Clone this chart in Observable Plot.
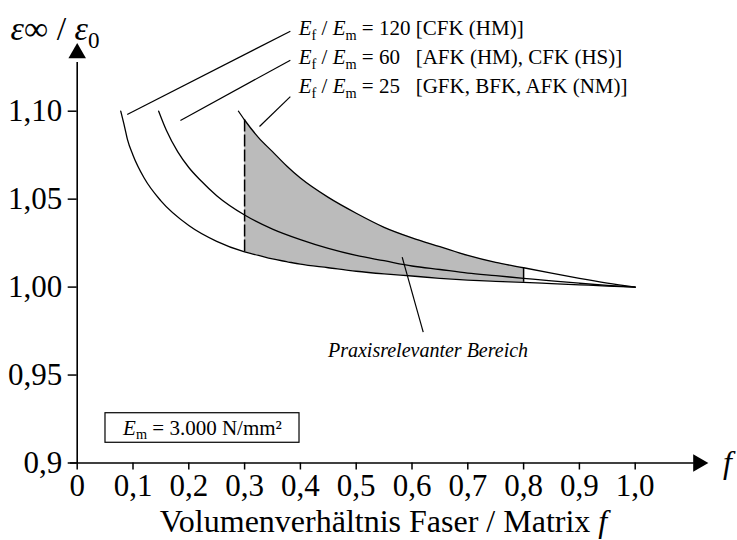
<!DOCTYPE html>
<html>
<head>
<meta charset="utf-8">
<script src="https://cdn.jsdelivr.net/npm/d3@7"></script>
<script src="https://cdn.jsdelivr.net/npm/@observablehq/plot@0.6"></script>
<style>
  body { margin: 0; background: #fff; }
  svg { display: block; }
  svg text { font-family: "Liberation Serif", serif; }
</style>
</head>
<body>
<div id="chart"></div>
<script>
// Kriechverhältnis ε∞/ε0 über dem Faservolumenanteil f für drei Steifigkeitsverhältnisse Ef/Em

// Ef/Em = 120 [CFK (HM)]
const f120 = [0.078, 0.085, 0.09, 0.10, 0.12, 0.15, 0.20, 0.25, 0.30, 0.325, 0.35, 0.375, 0.40, 0.45, 0.50, 0.55, 0.60, 0.65, 0.70, 0.75, 0.80, 0.85, 0.90, 0.95, 1.00];
const v120 = [1.100, 1.091, 1.084, 1.075, 1.062, 1.049, 1.035, 1.026, 1.020, 1.018, 1.016, 1.0145, 1.013, 1.011, 1.009, 1.0075, 1.0063, 1.005, 1.004, 1.0033, 1.0027, 1.002, 1.0013, 1.0006, 1.000];

// Ef/Em = 60 [AFK (HM), CFK (HS)]
const f60 = [0.146, 0.16, 0.18, 0.20, 0.22, 0.25, 0.30, 0.35, 0.40, 0.45, 0.50, 0.55, 0.60, 0.65, 0.70, 0.75, 0.80, 0.85, 0.90, 0.95, 1.00];
const v60 = [1.100, 1.089, 1.077, 1.068, 1.061, 1.052, 1.041, 1.033, 1.027, 1.022, 1.018, 1.015, 1.012, 1.010, 1.008, 1.0065, 1.005, 1.0035, 1.0022, 1.001, 1.000];

// Ef/Em = 25 [GFK, BFK, AFK (NM)]
const f25 = [0.289, 0.30, 0.325, 0.35, 0.375, 0.40, 0.45, 0.50, 0.55, 0.60, 0.65, 0.70, 0.75, 0.80, 0.85, 0.90, 0.95, 1.00];
const v25 = [1.100, 1.095, 1.085, 1.077, 1.069, 1.062, 1.051, 1.042, 1.034, 1.028, 1.023, 1.018, 1.014, 1.011, 1.008, 1.005, 1.0023, 1.000];

// practically relevant range of f
const bandFrom = 0.30;
const bandTo = 0.80;

// axis ticks and their labels (German decimal comma)
const xTicks = [0, 0.1, 0.2, 0.3, 0.4, 0.5, 0.6, 0.7, 0.8, 0.9, 1.0];
const xTickLabels = ["0", "0,1", "0,2", "0,3", "0,4", "0,5", "0,6", "0,7", "0,8", "0,9", "1,0"];
const yTicks = [0.9, 0.95, 1.0, 1.05, 1.1];
const yTickLabels = ["0,9", "0,95", "1,00", "1,05", "1,10"];

// legend texts (markup: *x* italic, _x subscript)
const seriesLabels = [
  "*E*_f / *E*_m = 120 [CFK (HM)]",
  "*E*_f / *E*_m = 60   [AFK (HM), CFK (HS)]",
  "*E*_f / *E*_m = 25   [GFK, BFK, AFK (NM)]"
];
const matrixNote = "*E*_m = 3.000 N/mm²";
const rangeNote = "Praxisrelevanter Bereich";
const xTitle = "Volumenverhältnis Faser / Matrix *f*";
const yTitle = "*ε*∞ / *ε*_0";

// ---- tables built from the arrays above ----
const toRows = (fs, vs) => fs.map((f, i) => ({f, v: vs[i]}));
const c120 = toRows(f120, v120);
const c60 = toRows(f60, v60);
const c25 = toRows(f25, v25);

const key = (f) => f.toFixed(3);
const lookup120 = new Map(c120.map(d => [key(d.f), d.v]));
const band = c25
  .filter(d => d.f >= bandFrom - 1e-9 && d.f <= bandTo + 1e-9)
  .map(d => ({f: d.f, lo: lookup120.get(key(d.f)), hi: d.v}));
const edges = [band[0], band[band.length - 1]];

// annotation anchors (leader lines from curve starts to legend rows)
const legendRows = [
  {x: 0.397, y: 1.1470, text: seriesLabels[0]},
  {x: 0.397, y: 1.1305, text: seriesLabels[1]},
  {x: 0.397, y: 1.1140, text: seriesLabels[2]}
];
const leaders = [
  {x1: 0.0896, y1: 1.0981, x2: 0.382, y2: 1.1455},
  {x1: 0.185, y1: 1.0947, x2: 0.382, y2: 1.1290},
  {x1: 0.3267, y1: 1.0913, x2: 0.382, y2: 1.1083},
  {x1: 0.5824, y1: 1.0170, x2: 0.6201, y2: 0.9744}
];

const serif = "Liberation Serif";

const chart = Plot.plot({
  width: 737,
  height: 540,
  marginLeft: 76.7,
  marginRight: 102.3,
  marginTop: 110.7,
  marginBottom: 77.5,
  x: {domain: [0, 1]},
  y: {domain: [0.9, 1.1]},
  style: {fontFamily: serif, color: "#000", background: "#fff"},
  marks: [
    // shaded practically relevant range between Ef/Em = 25 and Ef/Em = 120
    Plot.areaY(band, {x: "f", y1: "lo", y2: "hi", fill: "#bbbbbb", curve: "monotone-x"}),
    Plot.ruleX([edges[0]], {x: "f", y1: "lo", y2: "hi", stroke: "#000", strokeWidth: 1.5, strokeDasharray: "12,3"}),
    Plot.ruleX([edges[1]], {x: "f", y1: "lo", y2: "hi", stroke: "#000", strokeWidth: 1.5}),

    // the three curves
    Plot.line(c120, {x: "f", y: "v", stroke: "#000", strokeWidth: 1.3, curve: "monotone-x"}),
    Plot.line(c60, {x: "f", y: "v", stroke: "#000", strokeWidth: 1.3, curve: "monotone-x"}),
    Plot.line(c25, {x: "f", y: "v", stroke: "#000", strokeWidth: 1.3, curve: "monotone-x"}),

    // axes with arrowheads
    Plot.link([{x1: 0, y1: 0.9, x2: 0, y2: 1.128}], {x1: "x1", y1: "y1", x2: "x2", y2: "y2", stroke: "#000", strokeWidth: 1.6}),
    Plot.link([{x1: -0.013, y1: 0.9, x2: 1.105, y2: 0.9}], {x1: "x1", y1: "y1", x2: "x2", y2: "y2", stroke: "#000", strokeWidth: 1.6}),
    Plot.dot([{x: 0, y: 1.133}], {x: "x", y: "y", symbol: "triangle", r: 6.5, fill: "#000", stroke: null}),
    Plot.dot([{x: 1.113, y: 0.9}], {x: "x", y: "y", symbol: "triangle", r: 6.5, fill: "#000", stroke: null, rotate: 90}),

    Plot.axisX(xTicks, {
      tickSize: 7, tickPadding: 4, fontSize: 31, strokeWidth: 1.5, label: null, fontFamily: serif,
      tickFormat: d => xTickLabels[xTicks.indexOf(d)]
    }),
    Plot.axisY(yTicks, {
      tickSize: 9, tickPadding: 6, fontSize: 31, strokeWidth: 1.5, label: null, fontFamily: serif,
      tickFormat: d => yTickLabels[yTicks.indexOf(d)]
    }),

    // axis titles
    Plot.text([{x: -0.1195, y: 1.1465, t: yTitle}], {x: "x", y: "y", text: "t", textAnchor: "start", fontSize: 34, fontFamily: serif, className: "rich"}),
    Plot.text([{x: 1.1654, y: 0.9, t: "*f*"}], {x: "x", y: "y", text: "t", fontSize: 32, fontFamily: serif, className: "rich"}),
    Plot.text([{x: 0.549, y: 0.8668, t: xTitle}], {x: "x", y: "y", text: "t", fontSize: 32, fontFamily: serif, className: "rich"}),

    // legend rows with leader lines
    Plot.link(leaders, {x1: "x1", y1: "y1", x2: "x2", y2: "y2", stroke: "#000", strokeWidth: 1.2}),
    Plot.text(legendRows, {x: "x", y: "y", text: "text", textAnchor: "start", fontSize: 21, fontFamily: serif, className: "rich"}),

    // note on the relevant range
    Plot.text([{x: 0.6287, y: 0.964, t: rangeNote}], {x: "x", y: "y", text: "t", fontSize: 20, fontFamily: serif, fontStyle: "italic", letterSpacing: "0.8px"}),

    // matrix modulus box
    Plot.rect([{x1: 0.0507, x2: 0.3984, y1: 0.9115, y2: 0.9283}], {x1: "x1", x2: "x2", y1: "y1", y2: "y2", fill: "#fff", stroke: "#000", strokeWidth: 1.2}),
    Plot.text([{x: 0.2245, y: 0.9199, t: matrixNote}], {x: "x", y: "y", text: "t", fontSize: 21, fontFamily: serif, className: "rich"})
  ]
});

document.getElementById("chart").appendChild(chart);

// turn the small markup (*italic*, _sub) into tspans
function richify(textEl) {
  const src = textEl.textContent;
  const fs = parseFloat(getComputedStyle(textEl).fontSize) || 20;
  const segs = [];
  let italic = false;
  for (let i = 0; i < src.length; i++) {
    const ch = src[i];
    if (ch === "*") { italic = !italic; continue; }
    let sub = false, c = ch;
    if (ch === "_" && i + 1 < src.length) { sub = true; c = src[++i]; }
    const last = segs[segs.length - 1];
    if (last && last.italic === italic && last.sub === sub) last.t += c;
    else segs.push({t: c, italic, sub});
  }
  textEl.textContent = "";
  textEl.setAttribute("xml:space", "preserve");
  textEl.style.whiteSpace = "pre";
  const shift = fs * 0.22;
  let shifted = false;
  for (const s of segs) {
    const ts = document.createElementNS("http://www.w3.org/2000/svg", "tspan");
    ts.textContent = s.t;
    if (s.italic) ts.setAttribute("font-style", "italic");
    if (s.sub) {
      ts.setAttribute("font-size", (fs * 0.68).toFixed(1));
      if (!shifted) { ts.setAttribute("dy", shift.toFixed(2)); shifted = true; }
    } else if (shifted) {
      ts.setAttribute("dy", (-shift).toFixed(2));
      shifted = false;
    }
    textEl.appendChild(ts);
  }
}
chart.querySelectorAll(".rich text").forEach(richify);
</script>
</body>
</html>
